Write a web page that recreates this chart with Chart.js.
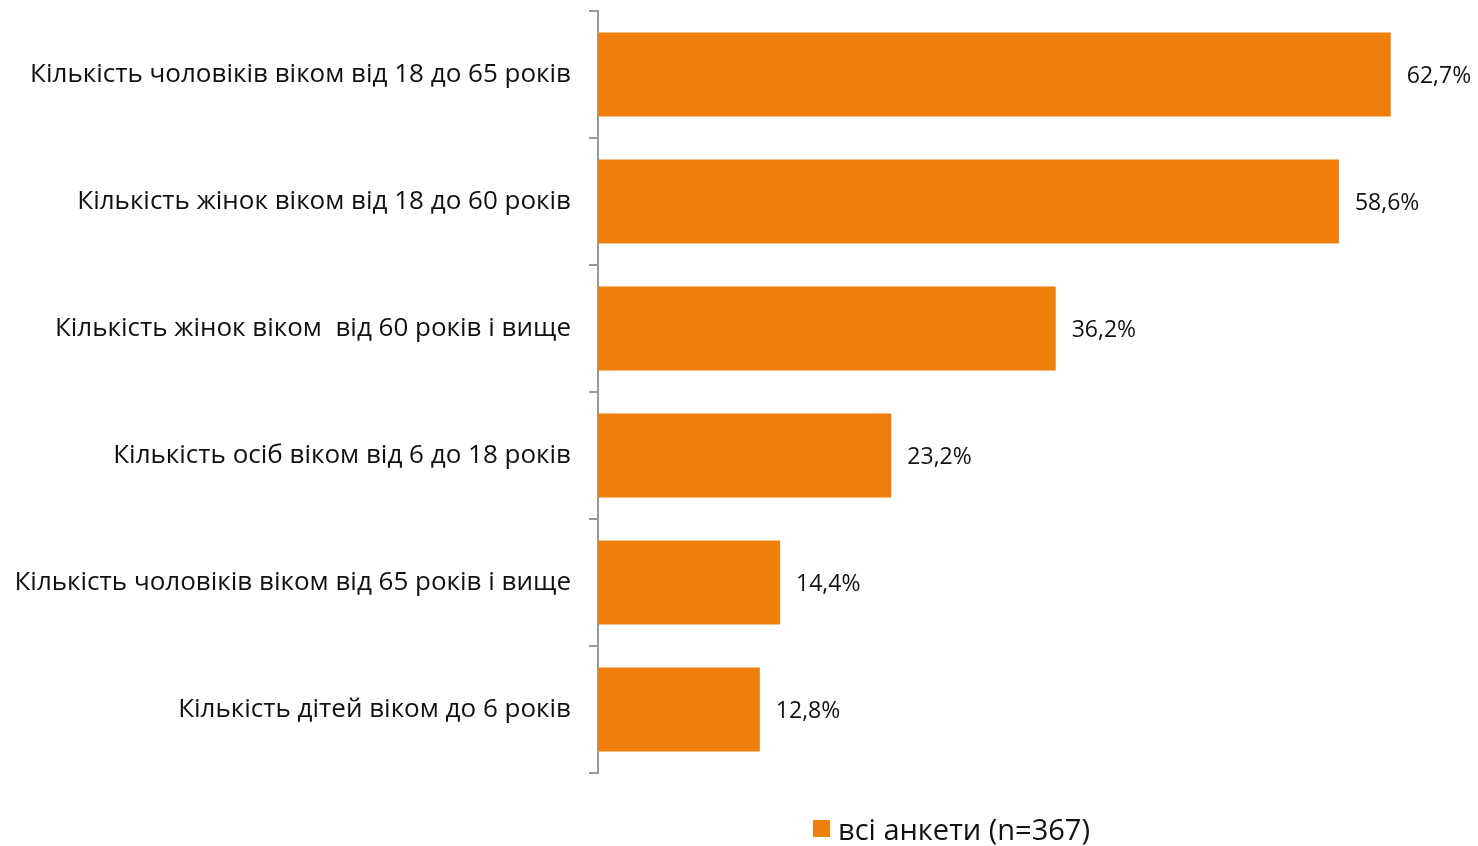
<!DOCTYPE html>
<html>
<head>
<meta charset="utf-8">
<script src="https://cdn.jsdelivr.net/npm/chart.js@4"></script>
<style>
    body { margin: 0; background: #fff; }
    #wrap { position: relative; width: 1478px; height: 846px; }
    #legend {
        position: absolute; left: 813px; top: 809px;
        font-family: 'Open Sans', sans-serif; font-size: 29px; color: #111;
        display: flex; align-items: center;
    }
    #legend span.box { display: inline-block; width: 17px; height: 17px; background: #EF7F0B; margin-right: 8px; }
</style>
</head>
<body>
<div id="wrap">
    <canvas id="chart" width="1478" height="846"></canvas>
    <div id="legend"><span class="box"></span><span id="legend-text"></span></div>
</div>
<script>
// Data
const categories = [
    'Кількість чоловіків віком від 18 до 65 років',
    'Кількість жінок віком від 18 до 60 років',
    'Кількість жінок віком  від 60 років і вище',
    'Кількість осіб віком від 6 до 18 років',
    'Кількість чоловіків віком від 65 років і вище',
    'Кількість дітей віком до 6 років'
];
const seriesName = 'всі анкети (n=367)';
const seriesValues = [62.7, 58.6, 36.2, 23.2, 14.4, 12.8];

const BAR_COLOR = '#EF7F0B';
const FONT = "'Open Sans', sans-serif";

document.getElementById('legend-text').textContent = seriesName;

// Value labels at the end of each bar
const valueLabels = {
    id: 'valueLabels',
    afterDatasetsDraw(chart) {
        const ctx = chart.ctx;
        const meta = chart.getDatasetMeta(0);
        ctx.save();
        ctx.font = '23px ' + FONT;
        ctx.fillStyle = '#111';
        ctx.textAlign = 'left';
        ctx.textBaseline = 'middle';
        meta.data.forEach((bar, i) => {
            const txt = seriesValues[i].toFixed(1).replace('.', ',') + '%';
            ctx.fillText(txt, bar.x + 16, bar.y + 2);
        });
        ctx.restore();
    }
};

new Chart(document.getElementById('chart').getContext('2d'), {
    type: 'bar',
    data: {
        labels: categories,
        datasets: [{
            label: seriesName,
            data: seriesValues,
            backgroundColor: BAR_COLOR,
            borderWidth: 0,
            categoryPercentage: 1,
            barPercentage: 0.66
        }]
    },
    options: {
        indexAxis: 'y',
        responsive: false,
        animation: false,
        layout: { padding: { top: 11, bottom: 73, right: 0, left: 0 } },
        plugins: {
            legend: { display: false },
            tooltip: { enabled: false }
        },
        scales: {
            x: {
                display: false,
                min: 0,
                max: 69.6
            },
            y: {
                afterFit(scale) {
                    scale.width = 598;
                    // no extra room for half label height at the ends
                    scale.paddingTop = 0;
                    scale.paddingBottom = 0;
                },
                border: { display: true, color: '#999', width: 2 },
                grid: {
                    offset: true,
                    drawOnChartArea: false,
                    drawTicks: true,
                    tickLength: 9,
                    color: '#999',
                    lineWidth: 2
                },
                ticks: {
                    padding: 18,
                    color: '#111',
                    font: { family: FONT, size: 26 }
                }
            }
        }
    },
    plugins: [valueLabels]
});
</script>
</body>
</html>
